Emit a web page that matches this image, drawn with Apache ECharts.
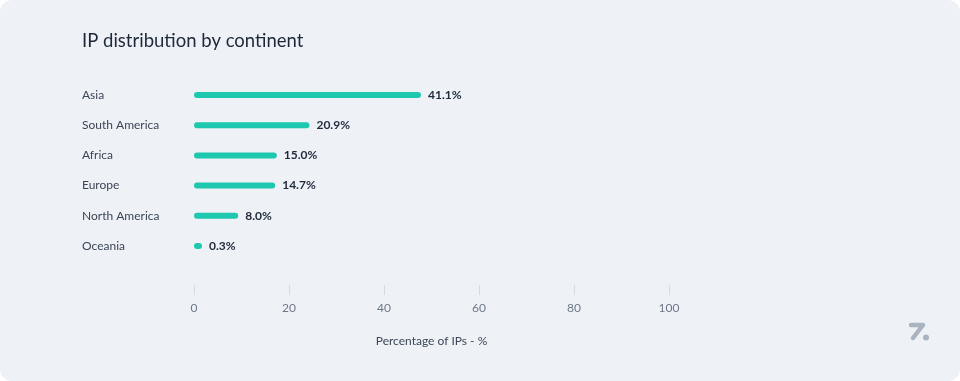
<!DOCTYPE html>
<html>
<head>
<meta charset="utf-8">
<script src="https://cdn.jsdelivr.net/npm/echarts@6/dist/echarts.min.js"></script>
<style>
  html, body { margin: 0; padding: 0; background: #ffffff; }
  #card { width: 960px; height: 381px; background: #eef1f6; border-radius: 12px; overflow: hidden; }
  #chart { width: 960px; height: 381px; }
</style>
</head>
<body>
<div id="card"><div id="chart"></div></div>
<script>
const categories = ['Asia', 'South America', 'Africa', 'Europe', 'North America', 'Oceania'];
const values = [41.1, 20.9, 15.0, 14.7, 8.0, 0.3];
const axisTicks = [0, 20, 40, 60, 80, 100];
const titleText = 'IP distribution by continent';
const axisName = 'Percentage of IPs - %';

const FONT = 'Lato, "Noto Sans", sans-serif';
const chart = echarts.init(document.getElementById('chart'), null, { renderer: 'canvas' });

chart.setOption({
  backgroundColor: 'transparent',
  animation: false,
  textStyle: { fontFamily: FONT },
  title: {
    text: titleText,
    left: 82,
    top: 32,
    padding: 0,
    textStyle: { fontFamily: FONT, fontSize: 18.5, fontWeight: 'normal', color: '#1d2838' }
  },
  grid: { left: 194, width: 475, top: 80, height: 181, containLabel: false },
  xAxis: [
    {
      type: 'value',
      min: axisTicks[0],
      max: axisTicks[axisTicks.length - 1],
      interval: axisTicks[1] - axisTicks[0],
      position: 'bottom',
      offset: 24,
      axisLine: { show: false },
      axisTick: { show: true, length: 10, lineStyle: { color: '#d5dae2', width: 1 } },
      splitLine: { show: false },
      axisLabel: { color: '#6d7887', fontSize: 12, margin: 17, fontFamily: FONT },
      name: axisName,
      nameLocation: 'middle',
      nameGap: 50,
      nameTextStyle: { color: '#3c4858', fontSize: 12, fontFamily: FONT }
    },
    {
      type: 'value',
      min: 0,
      max: 86,
      show: false
    }
  ],
  yAxis: {
    type: 'category',
    data: categories,
    inverse: true,
    axisLine: { show: false },
    axisTick: { show: false },
    splitLine: { show: false },
    axisLabel: { align: 'left', margin: 112, color: '#3a4555', fontSize: 12, fontFamily: FONT }
  },
  series: [{
    type: 'bar',
    xAxisIndex: 1,
    data: values,
    barWidth: 6,
    barMinHeight: 8,
    itemStyle: { color: '#1ec8ae', borderRadius: 3 },
    label: {
      show: true,
      position: 'right',
      distance: 7,
      formatter: p => p.value.toFixed(1) + '%',
      fontFamily: FONT,
      fontSize: 12,
      fontWeight: 'bold',
      color: '#1f2a3a'
    }
  }],
  graphic: [
    {
      type: 'polyline',
      shape: { points: [[911, 325], [923, 325], [913, 338]] },
      style: { stroke: '#aab3c0', lineWidth: 4.5, lineCap: 'round', lineJoin: 'round', fill: null }
    },
    {
      type: 'circle',
      shape: { cx: 926, cy: 337.5, r: 3 },
      style: { fill: '#aab3c0' }
    }
  ]
});
</script>
</body>
</html>
